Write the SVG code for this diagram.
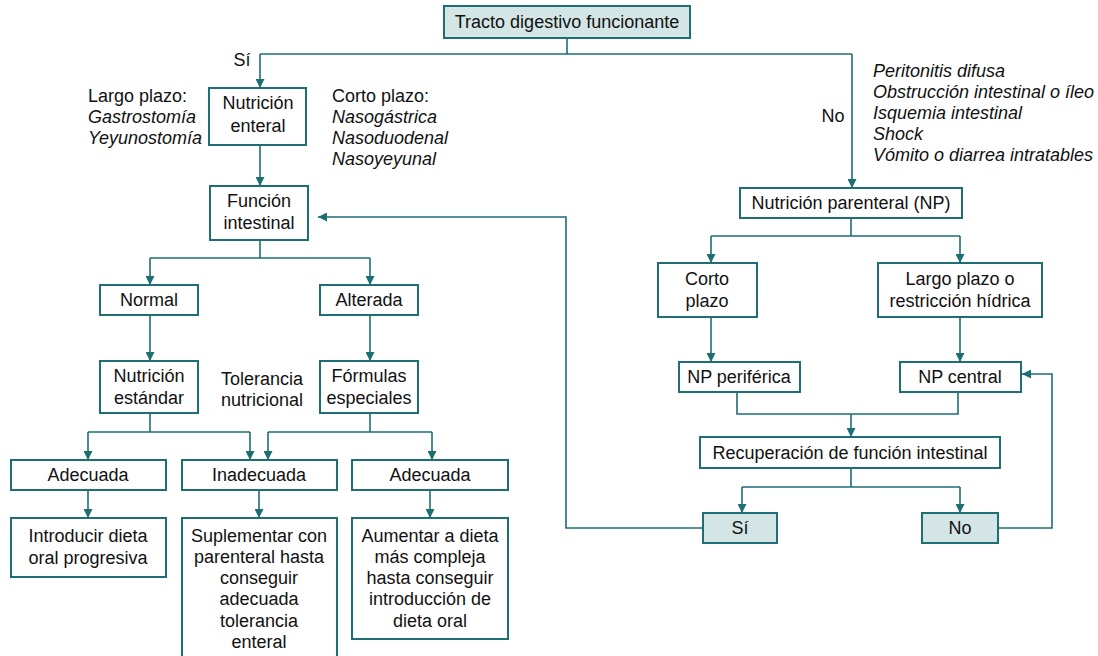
<svg xmlns="http://www.w3.org/2000/svg" width="1098" height="656" viewBox="0 0 1098 656">
  <defs>
    <marker id="arr" viewBox="0 0 10 10" refX="10" refY="5" markerWidth="9" markerHeight="9" markerUnits="userSpaceOnUse" orient="auto">
      <path d="M0,0 L10,5 L0,10 Z" fill="#1d6f73"/>
    </marker>
    <style>
      .box { fill: #ffffff; stroke: #1d6f73; stroke-width: 2; }
      .hl { fill: #d3e6e5; stroke: #1d6f73; stroke-width: 2; }
      .ln { fill: none; stroke: #1d6f73; stroke-width: 1.6; }
      .ar { fill: none; stroke: #1d6f73; stroke-width: 1.6; marker-end: url(#arr); }
      text { font-family: "Liberation Sans", Arial, sans-serif; font-size: 18px; fill: #111111; }
      .c { text-anchor: middle; }
      .i { font-style: italic; }
    </style>
  </defs>

  <rect width="1098" height="656" fill="#ffffff"/>

  <!-- connectors -->
  <g id="connectors">
    <path class="ln" d="M567,38 V54 M260,54 H852"/>
    <path class="ar" d="M260,54 V88"/>
    <path class="ar" d="M852,54 V188"/>
    <path class="ar" d="M260,145 V186"/>
    <path class="ln" d="M260,240 V258 M150,258 H370"/>
    <path class="ar" d="M150,258 V285"/>
    <path class="ar" d="M370,258 V285"/>
    <path class="ar" d="M150,315 V361"/>
    <path class="ar" d="M370,315 V361"/>
    <path class="ln" d="M150,413 V432 M88,432 H250"/>
    <path class="ar" d="M88,432 V460"/>
    <path class="ar" d="M250,432 V460"/>
    <path class="ln" d="M370,413 V432 M268,432 H432"/>
    <path class="ar" d="M268,432 V460"/>
    <path class="ar" d="M432,432 V460"/>
    <path class="ar" d="M88,490 V518"/>
    <path class="ar" d="M259,490 V518"/>
    <path class="ar" d="M430,490 V518"/>
    <path class="ln" d="M851,218 V236 M711,236 H960"/>
    <path class="ar" d="M711,236 V263"/>
    <path class="ar" d="M960,236 V263"/>
    <path class="ar" d="M711,317 V362"/>
    <path class="ar" d="M960,317 V362"/>
    <path class="ln" d="M737,392 V414 H958 V392"/>
    <path class="ar" d="M851,414 V437"/>
    <path class="ln" d="M851,468 V487 M742,487 H960"/>
    <path class="ar" d="M742,487 V513"/>
    <path class="ar" d="M960,487 V513"/>
    <path class="ar" d="M998,528 H1052 V374 H1022"/>
    <path class="ar" d="M703,528 H566 V217 H318"/>
  </g>

  <!-- nodes -->
  <g id="n-tracto">
    <rect class="hl" x="444" y="6" width="246" height="32"/>
    <text class="c" x="567" y="28">Tracto digestivo funcionante</text>
  </g>
  <g id="lbl-si">
    <text class="c" x="242" y="66">Sí</text>
  </g>
  <g id="lbl-no">
    <text class="c" x="833" y="122">No</text>
  </g>
  <g id="n-enteral">
    <rect class="box" x="209" y="88" width="97" height="57"/>
    <text class="c" x="258" y="109">Nutrición</text>
    <text class="c" x="258" y="132">enteral</text>
  </g>
  <g id="txt-largo">
    <text x="88" y="102">Largo plazo:</text>
    <text class="i" x="88" y="123">Gastrostomía</text>
    <text class="i" x="88" y="144">Yeyunostomía</text>
  </g>
  <g id="txt-corto">
    <text x="332" y="102">Corto plazo:</text>
    <text class="i" x="332" y="123">Nasogástrica</text>
    <text class="i" x="332" y="144">Nasoduodenal</text>
    <text class="i" x="332" y="165">Nasoyeyunal</text>
  </g>
  <g id="txt-contra">
    <text class="i" x="873" y="77">Peritonitis difusa</text>
    <text class="i" x="873" y="98">Obstrucción intestinal o íleo</text>
    <text class="i" x="873" y="119">Isquemia intestinal</text>
    <text class="i" x="873" y="140">Shock</text>
    <text class="i" x="873" y="161">Vómito o diarrea intratables</text>
  </g>
  <g id="n-funcion">
    <rect class="box" x="210" y="186" width="98" height="54"/>
    <text class="c" x="259" y="207">Función</text>
    <text class="c" x="259" y="229">intestinal</text>
  </g>
  <g id="n-normal">
    <rect class="box" x="100" y="285" width="98" height="30"/>
    <text class="c" x="149" y="306">Normal</text>
  </g>
  <g id="n-alterada">
    <rect class="box" x="320" y="285" width="98" height="30"/>
    <text class="c" x="369" y="306">Alterada</text>
  </g>
  <g id="n-estandar">
    <rect class="box" x="100" y="361" width="98" height="52"/>
    <text class="c" x="149" y="382">Nutrición</text>
    <text class="c" x="149" y="404">estándar</text>
  </g>
  <g id="txt-tolerancia">
    <text class="c" x="262" y="385">Tolerancia</text>
    <text class="c" x="262" y="406">nutricional</text>
  </g>
  <g id="n-formulas">
    <rect class="box" x="320" y="361" width="98" height="52"/>
    <text class="c" x="369" y="382">Fórmulas</text>
    <text class="c" x="369" y="404">especiales</text>
  </g>
  <g id="n-adecuada1">
    <rect class="box" x="11" y="460" width="155" height="30"/>
    <text class="c" x="88" y="481">Adecuada</text>
  </g>
  <g id="n-inadecuada">
    <rect class="box" x="182" y="460" width="155" height="30"/>
    <text class="c" x="259" y="481">Inadecuada</text>
  </g>
  <g id="n-adecuada2">
    <rect class="box" x="352" y="460" width="156" height="30"/>
    <text class="c" x="430" y="481">Adecuada</text>
  </g>
  <g id="n-introducir">
    <rect class="box" x="11" y="518" width="155" height="59"/>
    <text class="c" x="88" y="542">Introducir dieta</text>
    <text class="c" x="88" y="564">oral progresiva</text>
  </g>
  <g id="n-suplementar">
    <rect class="box" x="182" y="518" width="155" height="145"/>
    <text class="c" x="259" y="542">Suplementar con</text>
    <text class="c" x="259" y="563">parenteral hasta</text>
    <text class="c" x="259" y="584">conseguir</text>
    <text class="c" x="259" y="605">adecuada</text>
    <text class="c" x="259" y="627">tolerancia</text>
    <text class="c" x="259" y="648">enteral</text>
  </g>
  <g id="n-aumentar">
    <rect class="box" x="352" y="518" width="156" height="121"/>
    <text class="c" x="430" y="542">Aumentar a dieta</text>
    <text class="c" x="430" y="563">más compleja</text>
    <text class="c" x="430" y="584">hasta conseguir</text>
    <text class="c" x="430" y="605">introducción de</text>
    <text class="c" x="430" y="627">dieta oral</text>
  </g>
  <g id="n-np">
    <rect class="box" x="740" y="188" width="222" height="30"/>
    <text class="c" x="851" y="209">Nutrición parenteral (NP)</text>
  </g>
  <g id="n-corto">
    <rect class="box" x="658" y="263" width="99" height="54"/>
    <text class="c" x="707" y="285">Corto</text>
    <text class="c" x="707" y="307">plazo</text>
  </g>
  <g id="n-largo">
    <rect class="box" x="878" y="263" width="164" height="54"/>
    <text class="c" x="960" y="285">Largo plazo o</text>
    <text class="c" x="960" y="307">restricción hídrica</text>
  </g>
  <g id="n-periferica">
    <rect class="box" x="679" y="362" width="121" height="30"/>
    <text class="c" x="739" y="383">NP periférica</text>
  </g>
  <g id="n-central">
    <rect class="box" x="900" y="362" width="121" height="30"/>
    <text class="c" x="960" y="383">NP central</text>
  </g>
  <g id="n-recuperacion">
    <rect class="box" x="700" y="437" width="300" height="31"/>
    <text class="c" x="850" y="459">Recuperación de función intestinal</text>
  </g>
  <g id="n-si">
    <rect class="hl" x="703" y="513" width="74" height="30"/>
    <text class="c" x="740" y="534">Sí</text>
  </g>
  <g id="n-no">
    <rect class="hl" x="922" y="513" width="76" height="30"/>
    <text class="c" x="960" y="534">No</text>
  </g>
</svg>
